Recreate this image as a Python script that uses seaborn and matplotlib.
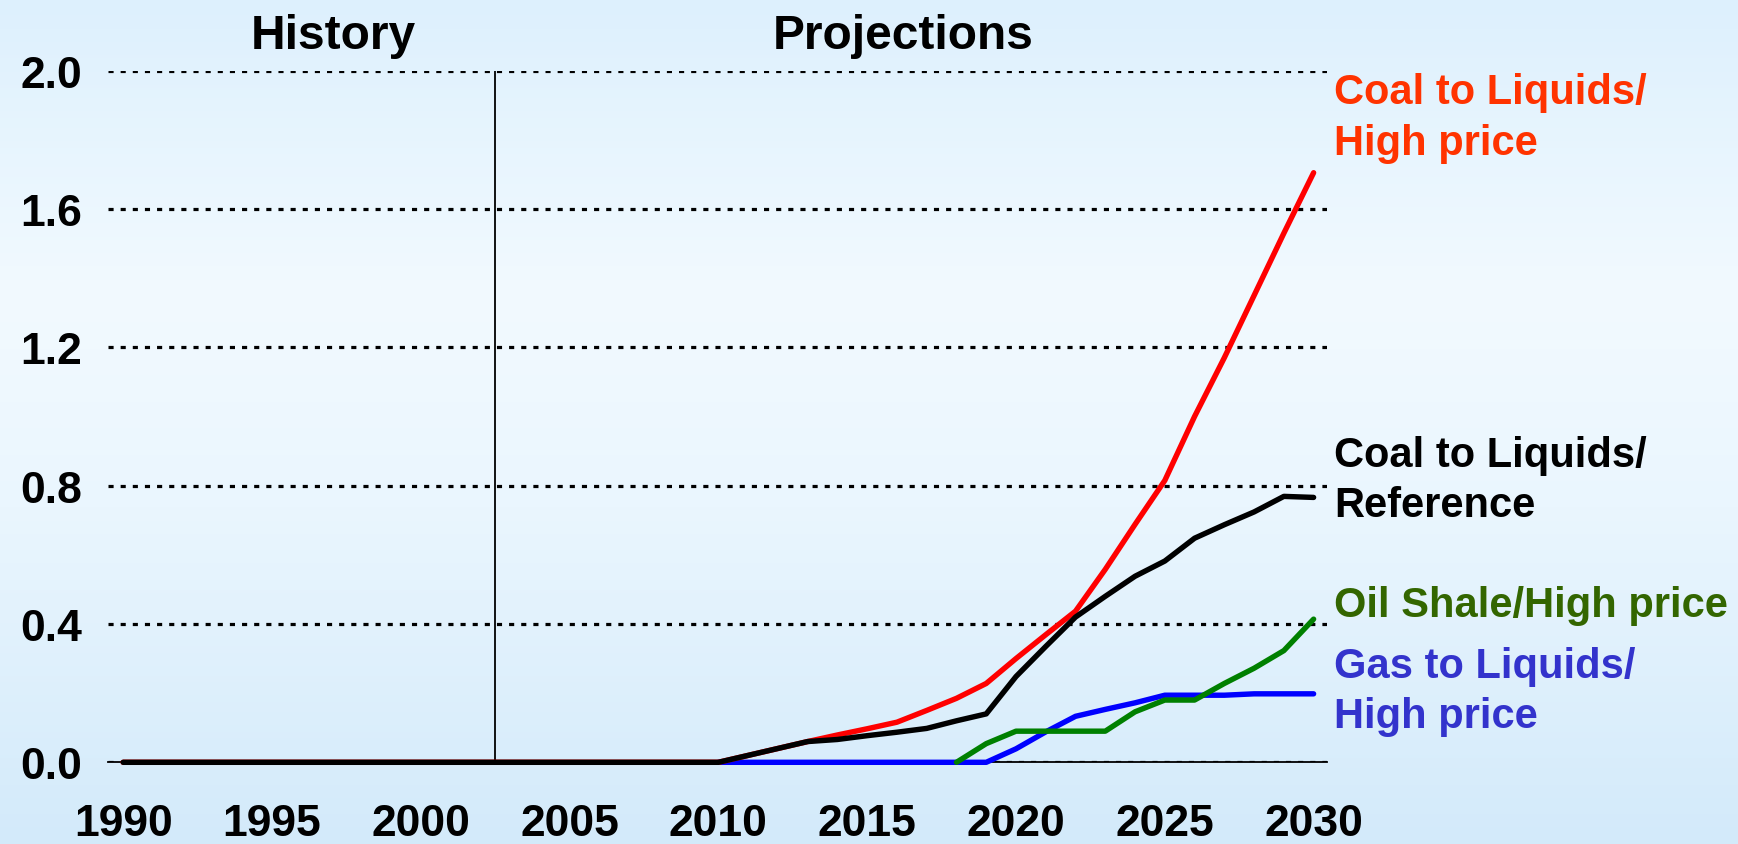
import numpy as np
import pandas as pd
import matplotlib
matplotlib.use("Agg")
import matplotlib.pyplot as plt
import seaborn as sns
from matplotlib.colors import LinearSegmentedColormap

# ---------------- data ----------------
years_all = list(range(1990, 2031))
years_gtl = list(range(2010, 2031))
years_shale = list(range(2018, 2031))

ctl_high = [0.0, 0.0, 0.0, 0.0, 0.0, 0.0, 0.0, 0.0, 0.0, 0.0,
            0.0, 0.0, 0.0, 0.0, 0.0, 0.0, 0.0, 0.0, 0.0, 0.0,
            0.0, 0.02, 0.04, 0.06, 0.079, 0.097, 0.116, 0.15, 0.185, 0.228,
            0.30, 0.369, 0.437, 0.558, 0.688, 0.815, 1.0, 1.17, 1.35, 1.53, 1.705]
ctl_ref = [0.0, 0.0, 0.0, 0.0, 0.0, 0.0, 0.0, 0.0, 0.0, 0.0,
           0.0, 0.0, 0.0, 0.0, 0.0, 0.0, 0.0, 0.0, 0.0, 0.0,
           0.0, 0.02, 0.04, 0.06, 0.066, 0.077, 0.087, 0.098, 0.12, 0.14,
           0.248, 0.335, 0.42, 0.48, 0.538, 0.582, 0.648, 0.687, 0.724, 0.769, 0.766]
gtl_high = [0.0, 0.0, 0.0, 0.0, 0.0, 0.0, 0.0, 0.0, 0.0, 0.0,
            0.039, 0.088, 0.133, 0.153, 0.172, 0.194, 0.194, 0.194, 0.198, 0.198, 0.198]
shale_high = [0.0, 0.054, 0.09, 0.09, 0.09, 0.09, 0.146, 0.18, 0.18, 0.228, 0.272, 0.323, 0.414]

series_names = ["Gas to Liquids/\nHigh price", "Oil Shale/High price",
                "Coal to Liquids/\nHigh price", "Coal to Liquids/\nReference"]
line_colors = ["#0000FF", "#008000", "#FF0000", "#000000"]
label_colors = ["#3333CC", "#336600", "#FF3300", "#000000"]
label_baselines = [[0.247, 0.102], [0.423], [1.907, 1.759], [0.857, 0.712]]

y_ticks = [0.0, 0.4, 0.8, 1.2, 1.6, 2.0]
x_labels = [1990, 1995, 2000, 2005, 2010, 2015, 2020, 2025, 2030]
divider_year = 2002.5
region_titles = ["History", "Projections"]
region_title_x = [1997.05, 2016.2]

df = pd.concat([
    pd.DataFrame({"year": years_gtl, "value": gtl_high, "series": series_names[0]}),
    pd.DataFrame({"year": years_shale, "value": shale_high, "series": series_names[1]}),
    pd.DataFrame({"year": years_all, "value": ctl_high, "series": series_names[2]}),
    pd.DataFrame({"year": years_all, "value": ctl_ref, "series": series_names[3]}),
], ignore_index=True)

# ---------------- style ----------------
sns.set_style("white")
plt.rcParams["font.family"] = ["Liberation Sans", "DejaVu Sans"]
plt.rcParams["font.weight"] = "bold"
plt.rcParams["text.color"] = "black"
plt.rcParams["xtick.color"] = "black"
plt.rcParams["ytick.color"] = "black"
plt.rcParams["xtick.labelcolor"] = "black"
plt.rcParams["ytick.labelcolor"] = "black"

W, H = 1738, 845
fig = plt.figure(figsize=(W / 100, H / 100), dpi=100)

# background gradient
bg = fig.add_axes([0, 0, 1, 1], zorder=-10)
cmap = LinearSegmentedColormap.from_list(
    "bg", [(0.0, "#DDF0FD"), (0.35, "#F2FAFF"), (0.6, "#EAF6FE"), (1.0, "#D3EAFA")])
grad = np.linspace(0, 1, 256).reshape(-1, 1)
bg.imshow(grad, aspect="auto", cmap=cmap, extent=[0, 1, 0, 1], origin="upper")
bg.set_axis_off()

left_px, right_px, y0_px, y2_px = 108.3, 1327.0, 763.3, 71.7
ax = fig.add_axes([left_px / W, (H - y0_px) / H, (right_px - left_px) / W, (y0_px - y2_px) / H])
ax.set_facecolor("none")

sns.lineplot(data=df, x="year", y="value", hue="series", hue_order=series_names,
             palette=line_colors, linewidth=3.9, legend=False, ax=ax,
             solid_capstyle="round", solid_joinstyle="round", clip_on=False, zorder=5)

ax.set_xlim(1989.5, 2030.45)
ax.set_ylim(0, 2.0)
ax.set_xlabel("")
ax.set_ylabel("")

# grid
ax.set_yticks(y_ticks)
ax.set_yticklabels([f"{v:.1f}" for v in y_ticks])
ax.yaxis.grid(True, color="black", linestyle=(0, (1.6, 2.2)), linewidth=2.3)
ax.xaxis.grid(False)
ax.set_axisbelow(True)

ax.set_xticks(x_labels)
ax.set_xticklabels([str(v) for v in x_labels])
ax.set_xticks([v - 0.5 for v in x_labels], minor=True)
ax.tick_params(axis="x", which="major", length=0, pad=29, labelsize=32, labelcolor="black")
ax.tick_params(axis="x", which="minor", length=9.5, width=1.3, direction="out", color="black")
ax.tick_params(axis="y", which="both", length=0, pad=19, labelsize=32, labelcolor="black")
for lab in ax.get_xticklabels() + ax.get_yticklabels():
    lab.set_fontweight("bold")
    lab.set_color("black")

for s in ["left", "right", "top"]:
    ax.spines[s].set_visible(False)
ax.spines["bottom"].set_color("black")
ax.spines["bottom"].set_linewidth(1.3)

# history / projections divider
ax.axvline(divider_year, ymin=0, ymax=1, color="black", linewidth=1.3, zorder=3)

for t, x in zip(region_titles, region_title_x):
    ax.text(x, 2.066, t, ha="center", va="baseline", fontsize=34.5,
            fontweight="bold", color="black", clip_on=False)

# right-side labels
for name, col, bases in zip(series_names, label_colors, label_baselines):
    for line, yb in zip(name.split("\n"), bases):
        ax.text(2030.68, yb, line, ha="left", va="baseline", fontsize=30,
                fontweight="bold", color=col, clip_on=False)

fig.savefig("out.png", dpi=100)
